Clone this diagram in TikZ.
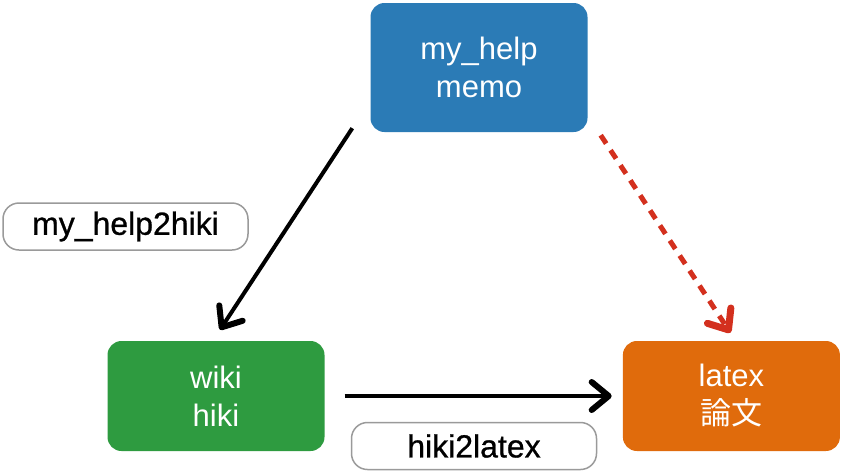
\documentclass[tikz,border=0pt]{standalone}
\usepackage{fontspec}
\setmainfont{Liberation Sans}
\newfontfamily\tagfont{Liberation Sans}[FakeBold=0.8]
\newfontfamily\cjk{Noto Sans CJK JP}
\usepackage{xcolor}
\usetikzlibrary{arrows.meta,positioning}
\definecolor{memoblue}{HTML}{2B7BB6}
\definecolor{wikigreen}{HTML}{2E9B40}
\definecolor{latexorange}{HTML}{E06B0C}
\definecolor{dashred}{HTML}{D3301E}
\definecolor{taggray}{HTML}{9A9A9A}

\begin{document}
\begin{tikzpicture}[
    x=1pt, y=-1pt,
    node distance=298pt,
    box/.style={rounded corners=14pt, align=center, minimum width=217pt, minimum height=110pt, text=white, font=\fontsize{31}{38}\selectfont},
    tag/.style={draw=taggray, line width=1.5pt, rounded corners=16pt, minimum width=245pt, minimum height=47pt, font=\tagfont\fontsize{32}{36}\selectfont},
    arrow/.style={-{Straight Barb[length=17pt,width=28pt,line width=2pt 1,round]}, line width=4pt},
    dasharrow/.style={-{Straight Barb[length=17pt,width=28pt,line width=2pt 1,round]}, line width=5pt, draw=dashred, dash pattern=on 10pt off 8pt}
]
\useasboundingbox (0,0) rectangle (846,472);

\node[box, fill=memoblue, minimum height=129pt] (memo) at (479,67.5) {my\_help\\memo};
\node[box, fill=wikigreen] (wiki) at (216,396) {wiki\\hiki};
\node[box, fill=latexorange, right=of wiki] (latex) {latex\\{\cjk 論文}};

\node[tag] (m2h) at (125.5,226.5) {my\_help2hiki};
\node[tag] (h2l) at (474,446) {hiki2latex};

\draw[arrow] ([xshift=-18pt,yshift=4pt]memo.south west) -- ([xshift=4pt,yshift=11pt]wiki.north);
\draw[dasharrow] ([xshift=13pt,yshift=-3pt]memo.south east) -- ([xshift=-1pt,yshift=8pt]latex.north);
\draw[arrow, shorten <=20pt, shorten >=11pt] (wiki.east) -- (wiki.east -| latex.west);
\end{tikzpicture}
\end{document}
